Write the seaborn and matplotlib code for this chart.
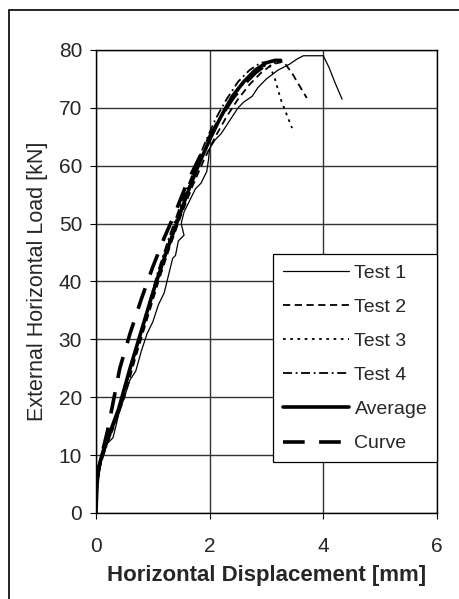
import matplotlib
matplotlib.use("Agg")
import matplotlib.pyplot as plt
import seaborn as sns
from matplotlib.patches import Rectangle

# readings from the chart (displacement in mm, load in kN)
x_test1 = [0, 0.03, 0.1, 0.2, 0.3, 0.4, 0.5, 0.6, 0.7, 0.8, 0.9, 1.0, 1.1, 1.2, 1.25, 1.3, 1.35,
           1.4, 1.45, 1.5, 1.55, 1.5, 1.55, 1.65, 1.75, 1.85, 1.95, 1.98, 2.0, 2.1, 2.2, 2.3, 2.4,
           2.5, 2.6, 2.75, 2.85, 3.0, 3.2, 3.4, 3.55, 3.65, 4.0, 4.1, 4.2, 4.33]
y_test1 = [0, 6, 9, 12, 13, 17, 20, 23, 24.5, 28, 31, 33, 36, 38, 40, 42, 44,
           44.5, 47, 47.5, 48, 50, 52, 54, 56, 57, 59, 61, 63, 64.5, 65.5, 67, 68.5,
           70, 71, 72, 73.5, 75, 76.5, 77.5, 78.5, 79, 79, 77, 74.5, 71.5]

x_test2 = [0, 0.03, 0.08, 0.15, 0.3, 0.5, 0.7, 0.9, 1.1, 1.3, 1.5, 1.7, 1.9, 2.1, 2.3, 2.5,
           2.7, 2.9, 3.1, 3.3, 3.45, 3.6, 3.71]
y_test2 = [0, 6, 9, 11, 14.5, 20, 27, 33.5, 40, 46, 51.5, 56.5, 61, 65, 68.5, 71.5,
           74, 76, 77.5, 78, 76, 73.5, 71.7]

x_test3 = [0, 0.02, 0.06, 0.15, 0.3, 0.5, 0.7, 0.9, 1.1, 1.3, 1.5, 1.7, 1.9, 2.1, 2.3, 2.5,
           2.7, 2.9, 3.05, 3.15, 3.25, 3.35, 3.45]
y_test3 = [0, 5, 8, 11, 15, 21, 28, 35, 41.5, 47.5, 53, 58, 62.5, 66.5, 70, 73,
           75.5, 77, 77.5, 75, 71.5, 69, 66.5]

x_test4 = [0, 0.02, 0.05, 0.1, 0.2, 0.35, 0.5, 0.7, 0.9, 1.1, 1.3, 1.5, 1.7, 1.9, 2.1, 2.3,
           2.5, 2.7, 2.9, 3.1, 3.2]
y_test4 = [0, 4, 7, 9, 12, 16, 21, 28, 35, 42, 48, 53.5, 58.5, 63.5, 68, 71.5,
           74.5, 76.5, 77.8, 78, 77.5]

x_avg = [0, 0.02, 0.05, 0.12, 0.25, 0.4, 0.6, 0.8, 1.0, 1.2, 1.4, 1.6, 1.8, 2.0, 2.2, 2.4,
         2.6, 2.8, 3.0, 3.15, 3.25]
y_avg = [0, 5, 8, 10.5, 14, 18, 25, 31.5, 38, 44, 49.5, 55, 60, 64.5, 68.5, 72,
         74.5, 76.5, 77.8, 78.2, 78.2]

x_curve = [0, 0.1, 0.2, 0.3, 0.42, 0.6, 0.8, 1.0, 1.2, 1.4, 1.6, 1.8, 2.0, 2.2, 2.4, 2.6,
           2.8, 3.0, 3.15]
y_curve = [5, 10, 14, 19, 25, 31, 37, 42.5, 47.5, 52, 57, 61, 65, 68.5, 71.5, 74,
           76, 77.5, 78]

sns.set_style("white")
plt.rcParams['font.family'] = ['Liberation Sans', 'DejaVu Sans']

fig = plt.figure(figsize=(4.59, 5.99), dpi=100)
ax = fig.add_axes([0.209, 0.1436, 0.743, 0.773])

sns.lineplot(x=x_test1, y=y_test1, sort=False, estimator=None, color='black', lw=0.9,
             linestyle='-', label='Test 1', ax=ax)
sns.lineplot(x=x_test2, y=y_test2, sort=False, estimator=None, color='black', lw=1.3,
             linestyle=(0, (4, 2.5)), label='Test 2', ax=ax)
sns.lineplot(x=x_test3, y=y_test3, sort=False, estimator=None, color='black', lw=1.3,
             linestyle=(0, (1.5, 2.5)), label='Test 3', ax=ax)
sns.lineplot(x=x_test4, y=y_test4, sort=False, estimator=None, color='black', lw=1.3,
             linestyle=(0, (5, 2, 1, 2)), label='Test 4', ax=ax)
sns.lineplot(x=x_avg, y=y_avg, sort=False, estimator=None, color='black', lw=2.6,
             linestyle='-', label='Average', ax=ax)
sns.lineplot(x=x_curve, y=y_curve, sort=False, estimator=None, color='black', lw=2.6,
             linestyle=(0, (6, 4)), label='Curve', ax=ax)

ax.set_xlim(0, 6)
ax.set_ylim(0, 80)
ax.set_xticks([0, 2, 4, 6])
ax.set_yticks(range(0, 81, 10))
ax.grid(True, color='#333333', lw=1.0)
for s in ax.spines.values():
    s.set_color('black')
    s.set_linewidth(1.0)
ax.tick_params(axis='both', labelsize=15, direction='out', length=4, width=0.8,
               color='black', bottom=True, left=True)
ax.tick_params(axis='x', pad=13)
ax.tick_params(axis='y', pad=6)

ax.set_xlabel('Horizontal Displacement [mm]', fontsize=16, fontweight='bold', labelpad=7)
ax.set_ylabel('External Horizontal Load [kN]', fontsize=15.5, labelpad=8)

leg = ax.legend(loc='lower right', bbox_to_anchor=(1.0, 0.11), fontsize=14, frameon=True,
                fancybox=False, edgecolor='black', framealpha=1, handlelength=3.4,
                handletextpad=0.3, labelspacing=0.85, borderpad=0.5, borderaxespad=0)
leg.get_frame().set_linewidth(0.9)

# outer frame around the figure
fig.add_artist(Rectangle((0.0196, -0.1), 1.5, 0.983 + 0.1, transform=fig.transFigure,
                         fill=False, ec='black', lw=1.2))

fig.savefig('out.png', dpi=100)
